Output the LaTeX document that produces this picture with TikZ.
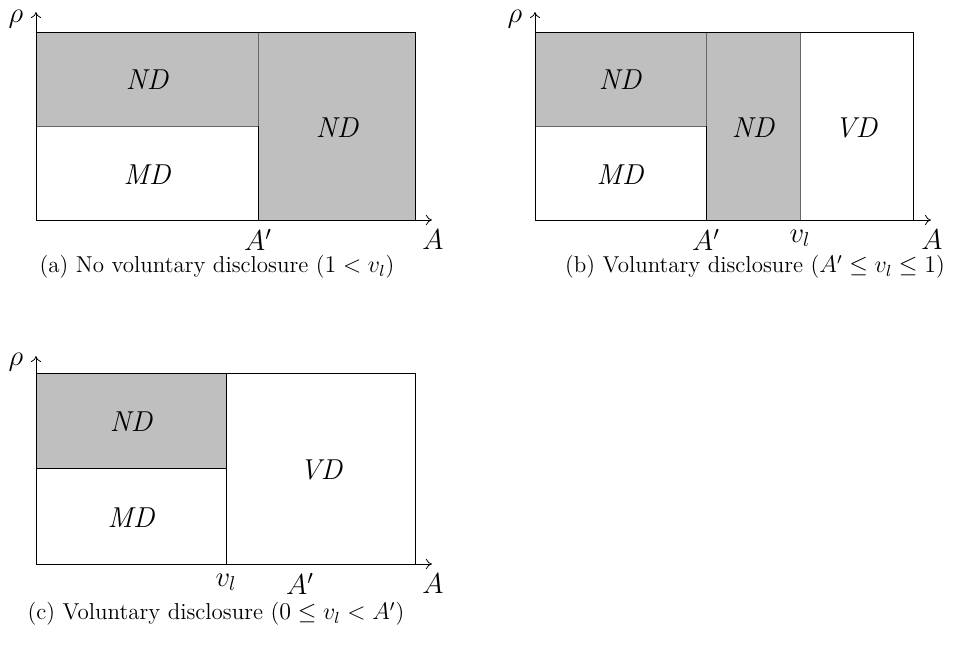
\documentclass[tikz,border=0pt]{standalone}
\usetikzlibrary{arrows.meta}
\begin{document}
\begin{tikzpicture}[x=0.5pt,y=-0.5pt,
  grayreg/.style={fill=black!25,draw=black!60},
  whitereg/.style={fill=white,draw=black},
  axis/.style={-{To[length=3pt,width=5pt]},black},
  reglabel/.style={font=\fontsize{14.4}{17}\selectfont\itshape},
  axlabel/.style={font=\Large},
  capt/.style={font=\fontsize{11.5}{14}\selectfont}]
\useasboundingbox (0,0) rectangle (954,654);
% ---------- (a)
\coordinate (oa) at (36,220);
\draw[whitereg] (36,32) rectangle (415,220);
\draw[grayreg] (36,32) rectangle (258,126);
\draw[grayreg] (258,32) rectangle (415,220);
\draw[black] (36,32) -- (415,32) -- (415,220);
\draw (258,126) -- (258,220);
\coordinate (ax) at (432,220);
\coordinate (ay) at (36,12);
\draw[axis] (oa) -- (ax);
\draw[axis] (oa) -- (ay);
\node[reglabel] (a1) at (147,80) {ND};
\node[reglabel] (a2) at (147,175) {MD};
\node[reglabel] (a3) at (337,128) {ND};
\node[axlabel] (a4) at (258,240) {$A'$};
\node[axlabel] (a5) at (433,240) {$A$};
\node[axlabel] (a6) at (16,19) {$\rho$};
\node[capt] (a7) at (217,267) {(a) No voluntary disclosure ($1 < v_l$)};
% ---------- (b)
\coordinate (ob) at (535,220);
\draw[whitereg] (535,32) rectangle (913,220);
\draw[grayreg] (535,32) rectangle (706,126);
\draw[grayreg] (706,32) rectangle (800,220);
\draw[black] (535,32) -- (913,32) -- (913,220);
\draw (706,126) -- (706,220);
\coordinate (bx) at (931,220);
\coordinate (by) at (535,12);
\draw[axis] (ob) -- (bx);
\draw[axis] (ob) -- (by);
\node[reglabel] (b1) at (620,80) {ND};
\node[reglabel] (b2) at (620,175) {MD};
\node[reglabel] (b3) at (753,128) {ND};
\node[reglabel] (b4) at (856,128) {VD};
\node[axlabel] (b5) at (706,240) {$A'$};
\node[axlabel] (b6) at (800,238) {$v_l$};
\node[axlabel] (b7) at (932,240) {$A$};
\node[axlabel] (b8) at (515,19) {$\rho$};
\node[capt] (b9) at (755,267) {(b) Voluntary disclosure ($A' \le v_l \le 1$)};
% ---------- (c)
\coordinate (oc) at (36,564);
\draw[whitereg] (36,373) rectangle (415,564);
\draw[grayreg] (36,373) rectangle (226,468);
\draw[black] (36,373) -- (415,373) -- (415,564);
\draw (226,373) -- (226,564);
\draw (36,468) -- (226,468);
\coordinate (cx) at (432,564);
\coordinate (cy) at (36,356);
\draw[axis] (oc) -- (cx);
\draw[axis] (oc) -- (cy);
\node[reglabel] (c1) at (131,422) {ND};
\node[reglabel] (c2) at (131,518) {MD};
\node[reglabel] (c3) at (321,470) {VD};
\node[axlabel] (c4) at (226,582) {$v_l$};
\node[axlabel] (c5) at (300,584) {$A'$};
\node[axlabel] (c6) at (433,584) {$A$};
\node[axlabel] (c7) at (16,362) {$\rho$};
\node[capt] (c8) at (216,614) {(c) Voluntary disclosure ($0 \le v_l < A'$)};
\end{tikzpicture}
\end{document}
